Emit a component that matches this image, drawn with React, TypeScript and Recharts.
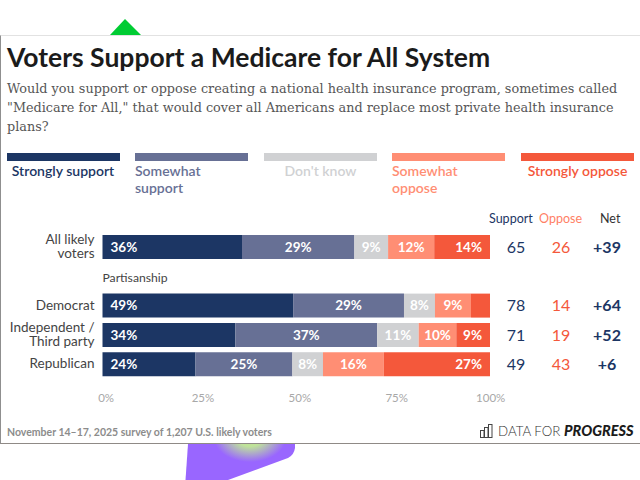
import { BarChart, Bar, XAxis, YAxis, LabelList } from "recharts";

const sans = "Lato, Inter, sans-serif";
const serif = "'DejaVu Serif', serif";

const rows = ["All likely voters", "Partisanship", "Democrat", "Independent / Third party", "Republican"];
const strongSupport = [36, null, 49.2, 34.3, 24];
const someSupport = [29, null, 28.6, 36.6, 25];
const dontKnow = [8.7, null, 8, 10.7, 7.9];
const someOppose = [11.9, null, 9.3, 9.7, 15.7];
const strongOppose = [14.4, null, 4.9, 8.7, 27.4];

const supportTotals = [65, null, 78, 71, 49];
const opposeTotals = [26, null, 14, 19, 43];
const netTotals = ["+39", null, "+64", "+52", "+6"];

const xTicks = [0, 25, 50, 75, 100];

const seriesNames = ["Strongly support", "Somewhat support", "Don't know", "Somewhat oppose", "Strongly oppose"];
const seriesColors = ["#1c3664", "#677095", "#d0d1d3", "#ff8e74", "#f4583b"];
const seriesValues = [strongSupport, someSupport, dontKnow, someOppose, strongOppose];

const data = rows.map((name, i) => ({
  name,
  s0: seriesValues[0][i],
  s1: seriesValues[1][i],
  s2: seriesValues[2][i],
  s3: seriesValues[3][i],
  s4: seriesValues[4][i],
}));

const legendLeft = [6.5, 135, 264, 392, 521];
const legendLines = [["Strongly support"], ["Somewhat", "support"], ["Don't know"], ["Somewhat", "oppose"], ["Strongly oppose"]];

const pct = (v: any) => (v == null || v < 6 ? "" : `${Math.round(v)}%`);

function RowLabel({ x, y, payload }: any) {
  if (payload.value === "Partisanship") {
    return (
      <text x={x + 8} y={y + 6.5} textAnchor="start" fill="#444" fontSize={12.2} fontFamily={sans}>
        {payload.value}
      </text>
    );
  }
  const lines =
    payload.value === "All likely voters"
      ? ["All likely", "voters"]
      : payload.value === "Independent / Third party"
        ? ["Independent /", "Third party"]
        : [payload.value];
  const top = y + 4.5 - (lines.length - 1) * 7;
  return (
    <text x={x} y={top} textAnchor="end" fill="#444" fontSize={13.5} fontFamily={sans}>
      {lines.map((l, i) => (
        <tspan key={l} x={x} dy={i === 0 ? 0 : 14}>
          {l}
        </tspan>
      ))}
    </text>
  );
}

function TotalsTick({ y, index }: any) {
  if (supportTotals[index] == null) return null;
  return (
    <g fontFamily={sans} textAnchor="middle">
      <text x={516} y={y + 6} fill="#1c3664" fontSize={16}>{supportTotals[index]}</text>
      <text x={561} y={y + 6} fill="#f4583b" fontSize={16}>{opposeTotals[index]}</text>
      <text x={607} y={y + 6} fill="#1c3664" fontSize={16} fontWeight={700}>{netTotals[index]}</text>
    </g>
  );
}

function PctTick({ x, y, payload }: any) {
  return (
    <text x={x + (payload.value === 100 ? 0.7 : 3.6)} y={y + 15} textAnchor="middle" fill="#a8a8a8" fontSize={11.5} fontFamily={sans}>
      {payload.value}%
    </text>
  );
}

export default function App() {
  return (
    <div style={{ position: "fixed", left: 0, top: 0, width: 640, height: 480, overflow: "hidden", background: "#fff", fontFamily: sans }}>
      <svg width={640} height={480} style={{ position: "absolute", left: 0, top: 0 }}>
        <defs>
          <radialGradient id="glow" gradientUnits="userSpaceOnUse" cx={0} cy={0} r={1} gradientTransform="translate(250 438) scale(36 24)">
            <stop offset="0%" stopColor="#bfe58f" />
            <stop offset="35%" stopColor="#bfe39a" />
            <stop offset="100%" stopColor="#9966ff" />
          </radialGradient>
        </defs>
        <polygon points="110,35 125,19 141,35" fill="#00cc33" />
        <path d="M188 444 L295 444 L295 448 Q294 455 288 458 L228 480 L185.500 480 Z" fill="url(#glow)" />
      </svg>

      <div style={{ position: "absolute", left: 0, top: 35, width: 640, height: 409, background: "#fff", borderTop: "1px solid #e2e2e2", borderBottom: "1px solid #8f8a86", borderLeft: "1px solid #8f8f8f", boxSizing: "border-box" }} />

      <div style={{ position: "absolute", left: 7, top: 41, fontSize: 26.5, fontWeight: 700, color: "#1b1b1b", whiteSpace: "nowrap", lineHeight: "32px" }}>
        Voters Support a Medicare for All System
      </div>
      <div style={{ position: "absolute", left: 7, top: 79, width: 620, fontFamily: serif, fontSize: 12.8, color: "#565656", lineHeight: "19px" }}>
        <div style={{ whiteSpace: "nowrap" }}>Would you support or oppose creating a national health insurance program, sometimes called</div>
        <div style={{ whiteSpace: "nowrap" }}>"Medicare for All," that would cover all Americans and replace most private health insurance</div>
        <div style={{ whiteSpace: "nowrap" }}>plans?</div>
      </div>

      {seriesNames.map((name, i) => (
        <div key={name} style={{ position: "absolute", left: legendLeft[i], top: 153, width: 113 }}>
          <div style={{ height: 8, background: seriesColors[i] }} />
          <div style={{ marginTop: 1, color: seriesColors[i], fontSize: 14, fontWeight: 600, lineHeight: "17px", textAlign: legendLines[i].length > 1 ? "left" : "center" }}>
            {legendLines[i].map((l) => (
              <div key={l}>{l}</div>
            ))}
          </div>
        </div>
      ))}

      <div style={{ position: "absolute", left: 0, top: 0 }}>
        <BarChart
          width={640}
          height={480}
          layout="vertical"
          data={data}
          barSize={24}
          margin={{ top: 232, right: 0, bottom: 71.5, left: 2.5 }}
        >
          <XAxis type="number" domain={[0, 100]} ticks={xTicks} height={30} axisLine={false} tickLine={false} tick={<PctTick />} interval={0} />
          <YAxis yAxisId="rows" type="category" dataKey="name" width={100} axisLine={false} tickLine={false} tick={<RowLabel />} interval={0} />
          <YAxis yAxisId="totals" type="category" dataKey="name" orientation="right" width={150} axisLine={false} tickLine={false} tick={<TotalsTick />} interval={0} />
          {seriesNames.map((name, i) => (
            <Bar key={name} yAxisId="rows" dataKey={`s${i}`} name={name} stackId="a" fill={seriesColors[i]} isAnimationActive={false}>
              <LabelList
                dataKey={`s${i}`}
                position={i === 0 ? "insideLeft" : i === 4 ? "insideRight" : "center"}
                offset={8}
                formatter={pct}
                fill="#fff"
                fontSize={13.5}
                fontWeight={700}
                fontFamily={sans}
              />
            </Bar>
          ))}
        </BarChart>
      </div>

      <div style={{ position: "absolute", left: 0, top: 212, fontSize: 12.5, lineHeight: "14px" }}>
        <span style={{ position: "absolute", left: 489, color: "#1c3664" }}>Support</span>
        <span style={{ position: "absolute", left: 539, color: "#ff7f66" }}>Oppose</span>
        <span style={{ position: "absolute", left: 600, color: "#333" }}>Net</span>
      </div>

      <div style={{ position: "absolute", left: 7, top: 425, fontSize: 10.5, fontWeight: 700, color: "#8c8c8c", whiteSpace: "nowrap", lineHeight: "14px" }}>
        November 14–17, 2025 survey of 1,207 U.S. likely voters
      </div>

      <svg width={14} height={14} style={{ position: "absolute", left: 480, top: 424 }} fill="none" stroke="#444" strokeWidth={1}>
        <rect x={0.5} y={6.5} width={3.5} height={7} />
        <rect x={4.5} y={3.500} width={3.5} height={10} />
        <rect x={8.5} y={0.5} width={3.5} height={13} />
      </svg>
      <div style={{ position: "absolute", left: 498, top: 421, fontSize: 13.3, color: "#333", whiteSpace: "nowrap", lineHeight: "20px", fontWeight: 300 }}>
        DATA FOR
      </div>
      <div style={{ position: "absolute", left: 564, top: 421, fontSize: 14.5, fontWeight: 900, fontStyle: "italic", color: "#1b1b1b", whiteSpace: "nowrap", lineHeight: "20px" }}>
        PROGRESS
      </div>
    </div>
  );
}
